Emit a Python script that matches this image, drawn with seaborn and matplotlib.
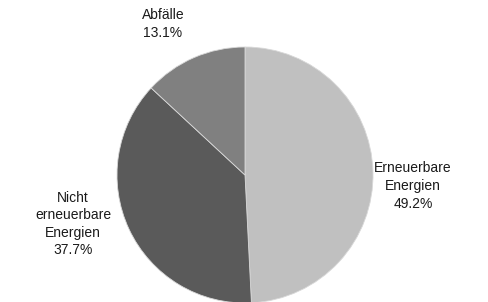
import matplotlib
matplotlib.use("Agg")
import matplotlib.pyplot as plt
import seaborn as sns

# data
labels = ["Erneuerbare\nEnergien", "Nicht\nerneuerbare\nEnergien", "Abfälle"]
shares = [49.2, 37.7, 13.1]
colors = ["#c0c0c0", "#5a5a5a", "#808080"]

# where each label block sits (pixel centres)
label_pos = [(413, 186), (73, 224), (163, 24)]

sns.set_style("white")
plt.rcParams["font.family"] = ["Liberation Sans", "DejaVu Sans"]

W, H = 488, 302
fig = plt.figure(figsize=(W / 100, H / 100), dpi=100)
ax = fig.add_axes([0, 0, 1, 1])

ax.pie(shares, colors=colors, startangle=90, counterclock=False,
       center=(245, H - 175), radius=128,
       wedgeprops=dict(edgecolor="#d8d8d8", linewidth=0.6))
ax.set_xlim(0, W)
ax.set_ylim(0, H)
ax.set_aspect("equal")
ax.axis("off")

for lab, val, (x, y) in zip(labels, shares, label_pos):
    ax.text(x, H - y, f"{lab}\n{val:.1f}%", ha="center", va="center",
            fontsize=10, color="#1a1a1a", linespacing=1.32)

fig.savefig("out.png", dpi=100)
